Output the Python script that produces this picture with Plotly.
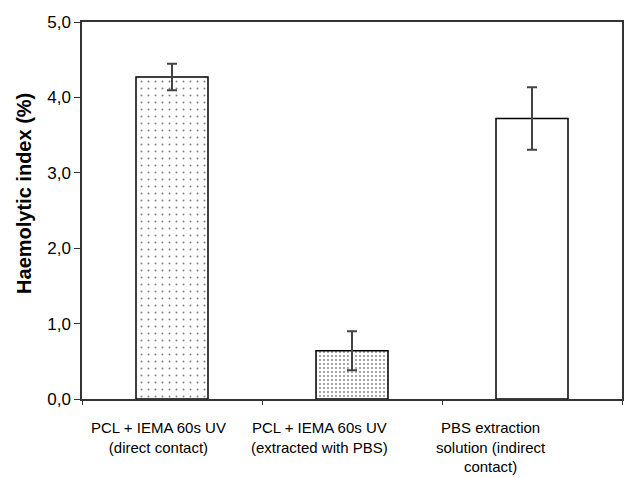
import plotly.graph_objects as go

categories = ["PCL + IEMA 60s UV<br>(direct contact)",
              "PCL + IEMA 60s UV<br>(extracted with PBS)",
              "PBS extraction<br>solution (indirect<br>contact)"]
values = [4.27, 0.64, 3.72]
errors = [0.175, 0.26, 0.415]
ytick_vals = [0, 1, 2, 3, 4, 5]

label_shift = [-14, -33, -41]
pattern_shapes = [".", ".", ""]
pattern_sizes = [7, 4, 8]
pattern_solid = [0.06, 0.16, 0.1]

FONT = "Arial, Liberation Sans, sans-serif"

fig = go.Figure()
fig.add_trace(go.Bar(
    x=categories, y=values, width=0.4,
    marker=dict(color="white", line=dict(color="black", width=1.5),
                pattern=dict(shape=pattern_shapes, size=pattern_sizes,
                             solidity=pattern_solid, fgcolor="black",
                             bgcolor="white", fillmode="overlay")),
    error_y=dict(type="data", array=errors, visible=True,
                 color="#444", thickness=2, width=5),
    showlegend=False,
))

for i, c in enumerate(categories):
    fig.add_annotation(x=c, xref="x", y=0, yref="paper", yanchor="top",
                       xanchor="center", yshift=-18, xshift=label_shift[i],
                       text=c, showarrow=False,
                       font=dict(family=FONT, size=15, color="black"))

fig.add_annotation(x=0, xref="paper", y=0.544, yref="paper",
                   text="<b>Haemolytic index (%)</b>", textangle=-90,
                   xanchor="center", yanchor="middle", xshift=-58,
                   showarrow=False, font=dict(family=FONT, size=20, color="black"))

fig.update_layout(
    width=629, height=478,
    margin=dict(l=82, r=5, t=22, b=79),
    paper_bgcolor="white", plot_bgcolor="white",
    separators=",.",
    font=dict(family=FONT, color="black"),
    xaxis=dict(type="category", showticklabels=False, ticks="outside",
               tickson="boundaries", ticklen=4, tickcolor="#333",
               showline=True, linecolor="#333", linewidth=1.5, mirror=True,
               showgrid=False, range=[-0.5, 2.5]),
    yaxis=dict(range=[0, 5], tickvals=ytick_vals, tickformat=".1f",
               ticks="outside", ticklen=6, tickcolor="#333",
               showline=True, linecolor="#333", linewidth=1.5, mirror=True,
               showgrid=False, zeroline=False,
               tickfont=dict(family=FONT, size=17, color="black")),
)

fig.write_html("out.html")
